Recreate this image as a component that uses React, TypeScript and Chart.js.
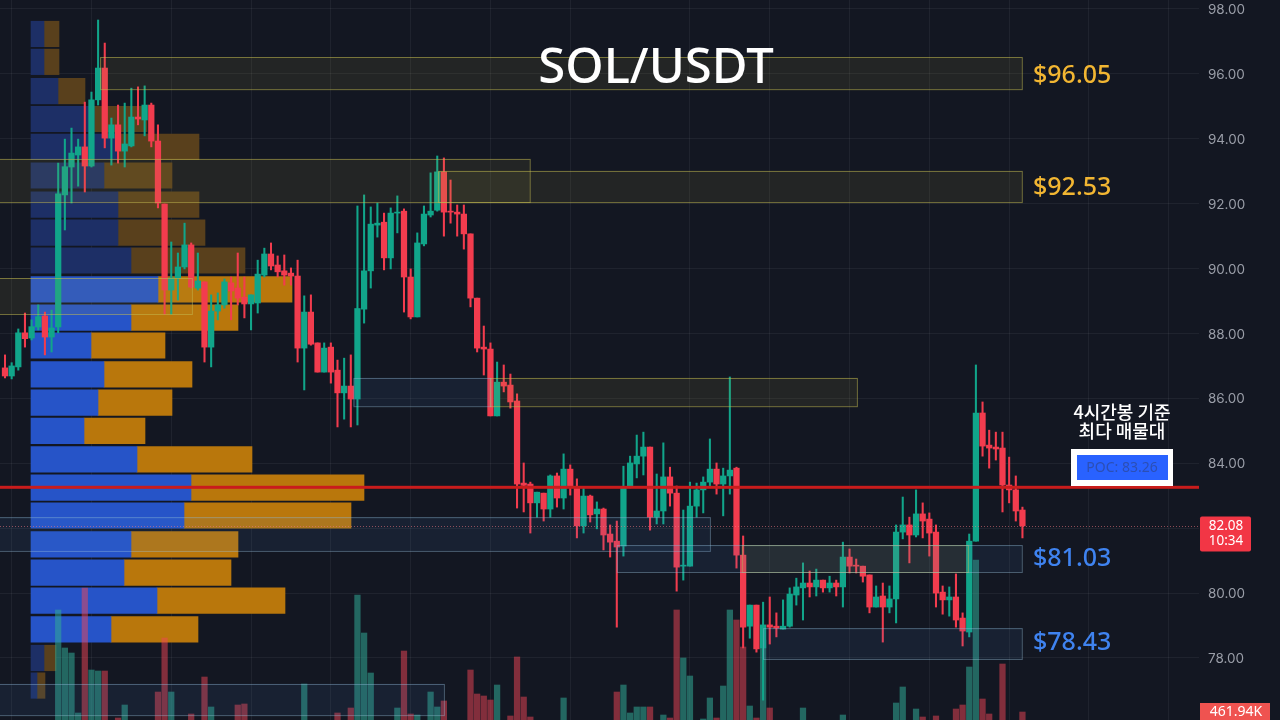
import { useEffect, useRef } from 'react';
import { Chart, Plugin, registerables } from 'chart.js';

Chart.register(...registerables);

const opens = [
  86.94, 86.69, 86.97, 88.02, 87.86, 88.2, 88.54, 87.89, 88.2, 92.27,
  93.13, 93.5, 93.75, 93.16, 95.2, 96.18, 94.02, 94.43, 93.62, 93.78,
  94.67, 94.58, 95.04, 93.93, 91.99, 89.34, 89.71, 90.05, 90.73, 89.4,
  89.59, 87.58, 88.69, 88.88, 89.56, 89.4, 89.12, 88.91, 88.94, 89.8,
  90.45, 90.11, 89.93, 89.86, 89.77, 87.55, 88.66, 87.71, 86.81, 87.58,
  86.87, 86.17, 86.38, 85.98, 88.75, 89.93, 91.34, 91.43, 90.33, 91.71,
  91.77, 89.74, 88.51, 90.76, 91.65, 91.8, 92.98, 91.77, 91.74, 91.68,
  91.07, 89.09, 87.58, 87.52, 85.46, 86.5, 86.41, 85.92, 83.39, 83.36,
  82.78, 83.08, 82.59, 83.61, 82.93, 83.82, 83.27, 82.07, 82.99, 82.44,
  82.59, 81.82, 81.6, 81.45, 83.27, 83.98, 84.22, 84.5, 82.34, 82.53,
  83.58, 83.08, 80.83, 80.83, 82.68, 83.18, 83.42, 83.82, 83.36, 83.61,
  83.85, 81.17, 78.98, 79.63, 78.31, 79.02, 78.98, 78.89, 78.98, 79.94,
  80.16, 80.31, 80.19, 80.4, 80.16, 80.31, 80.19, 81.11, 80.86, 80.83,
  80.56, 79.57, 79.91, 79.57, 79.82, 81.88, 82.1, 81.79, 82.44, 82.28,
  81.88, 80.03, 79.79, 79.88, 79.23, 78.8, 81.6, 85.55, 84.56, 84.5,
  84.47, 83.33, 83.18, 82.56,
];
const highs = [
  87.34, 87.1, 88.14, 88.63, 88.42, 88.88, 88.66, 88.72, 93.25, 93.99,
  94.33, 93.99, 95.13, 95.44, 97.66, 96.95, 94.64, 95.04, 95.1, 95.56,
  95.6, 95.63, 95.1, 94.43, 91.99, 90.82, 90.48, 91.4, 90.79, 90.48,
  89.59, 89.19, 89.25, 89.68, 89.74, 90.48, 89.74, 89.19, 90.26, 90.63,
  90.79, 90.39, 90.42, 90.02, 90.26, 89.16, 89.19, 87.71, 87.71, 87.71,
  87.18, 87.24, 87.34, 91.93, 92.27, 91.9, 92.02, 91.71, 91.87, 92.24,
  91.84, 89.99, 91.1, 91.93, 92.95, 93.47, 93.41, 92.73, 91.96, 91.96,
  91.07, 89.09, 88.23, 87.71, 87.12, 87.03, 86.75, 86.14, 84.01, 83.42,
  83.11, 83.08, 83.64, 83.7, 84.29, 83.95, 83.52, 83.24, 83.02, 82.81,
  82.62, 82.1, 82.22, 83.91, 84.22, 84.87, 84.96, 84.5, 83.67, 84.63,
  83.88, 83.3, 82.56, 83.42, 83.39, 83.58, 84.75, 84.01, 83.85, 86.66,
  83.88, 81.76, 79.63, 79.63, 79.72, 79.88, 79.39, 79.79, 80.16, 80.46,
  80.93, 80.68, 80.74, 80.4, 80.52, 80.4, 81.57, 81.36, 81.05, 80.83,
  80.56, 80.22, 80.31, 80.22, 82.1, 82.96, 82.34, 83.18, 82.78, 82.47,
  82.1, 80.22, 80.19, 80.59, 79.39, 81.82, 87.03, 85.89, 85.02, 84.96,
  84.96, 84.19, 83.61, 82.65,
];
const lows = [
  86.63, 86.6, 86.87, 87.58, 87.8, 88.11, 87.34, 87.43, 88.02, 91.19,
  92.02, 92.54, 92.36, 93.13, 95.04, 93.72, 93.19, 93.25, 93.13, 93.75,
  94.43, 94.09, 93.75, 91.87, 88.59, 88.59, 89.03, 89.99, 89.4, 89.34,
  87.12, 86.97, 88.42, 88.78, 88.42, 88.88, 88.48, 88.11, 88.63, 89.74,
  89.96, 89.74, 89.49, 89.49, 87.12, 86.26, 87.64, 86.81, 86.81, 86.47,
  85.12, 85.36, 85.12, 85.18, 88.32, 89.4, 90.97, 89.96, 89.99, 91.1,
  88.66, 88.45, 88.51, 90.7, 91.59, 91.77, 91.0, 91.4, 91.0, 90.6,
  88.82, 87.43, 86.72, 85.46, 85.46, 86.2, 85.7, 82.62, 82.5, 81.85,
  82.34, 82.22, 82.34, 82.65, 82.59, 83.02, 81.7, 81.85, 82.19, 81.98,
  81.33, 81.11, 78.95, 81.14, 83.24, 83.55, 83.64, 81.94, 82.13, 82.13,
  82.68, 80.06, 80.4, 80.83, 82.34, 82.47, 83.27, 83.05, 82.38, 83.05,
  80.77, 78.31, 78.61, 78.18, 76.7, 78.43, 78.65, 78.89, 78.95, 79.63,
  79.17, 79.88, 79.91, 80.03, 80.03, 79.91, 79.57, 80.62, 80.62, 80.34,
  79.39, 79.57, 78.49, 79.39, 79.08, 81.67, 80.93, 81.73, 81.7, 81.14,
  79.57, 79.35, 79.29, 78.95, 78.37, 78.65, 81.6, 84.22, 83.85, 84.1,
  82.5, 82.78, 82.22, 81.7,
];
const closes = [
  86.69, 87.0, 88.02, 87.84, 88.21, 88.52, 87.89, 88.17, 92.3, 93.14,
  93.56, 93.75, 93.16, 95.2, 96.18, 94.02, 94.43, 93.62, 93.84, 94.67,
  94.61, 95.04, 93.93, 92.02, 89.34, 89.71, 90.05, 90.73, 89.43, 89.62,
  87.58, 88.69, 88.88, 89.59, 89.31, 89.09, 88.91, 89.19, 89.83, 90.45,
  90.08, 89.9, 89.8, 89.77, 87.55, 88.66, 87.67, 86.81, 87.55, 86.81,
  86.17, 86.38, 85.98, 88.77, 89.93, 91.37, 91.4, 90.33, 91.71, 91.74,
  89.74, 88.51, 90.79, 91.68, 91.77, 92.98, 91.74, 91.74, 91.68, 91.07,
  89.09, 87.55, 87.52, 85.46, 86.5, 86.38, 85.89, 83.36, 83.32, 82.78,
  83.11, 82.59, 83.61, 82.93, 83.82, 83.27, 82.07, 82.99, 82.41, 82.59,
  81.79, 81.57, 81.42, 83.27, 84.01, 84.22, 84.5, 82.34, 82.53, 83.58,
  83.08, 80.8, 80.86, 82.68, 83.18, 83.42, 83.82, 83.36, 83.61, 83.79,
  81.17, 78.95, 79.63, 78.28, 79.02, 78.95, 78.92, 78.98, 79.97, 80.19,
  80.31, 80.19, 80.4, 80.16, 80.31, 80.19, 81.11, 80.83, 80.83, 80.52,
  79.57, 79.88, 79.57, 79.82, 81.88, 82.1, 81.79, 82.44, 82.22, 81.85,
  80.0, 79.79, 79.88, 79.17, 78.83, 81.6, 85.55, 84.53, 84.47, 84.44,
  83.33, 83.18, 82.53, 82.07,
];
// volume in thousands, the small ones sit below the bottom edge of the picture
const volumes = [
  200, 200, 200, 200, 200, 200, 200, 200, 3080, 2105,
  1976, 437, 3644, 1540, 1514, 1514, 200, 308, 642, 200,
  200, 200, 200, 975, 2361, 975, 200, 200, 411, 200,
  1360, 591, 200, 200, 200, 642, 668, 200, 200, 200,
  200, 200, 200, 200, 200, 1181, 200, 200, 200, 200,
  437, 200, 565, 3464, 2489, 1463, 200, 200, 200, 565,
  2027, 411, 385, 200, 975, 591, 745, 200, 200, 200,
  1540, 924, 873, 770, 1155, 200, 360, 1874, 847, 334,
  200, 200, 200, 200, 822, 200, 200, 200, 200, 200,
  200, 200, 975, 1155, 437, 591, 591, 591, 200, 385,
  308, 3080, 1848, 1386, 200, 283, 822, 308, 1129, 3080,
  2823, 2130, 616, 308, 2310, 565, 200, 200, 200, 200,
  565, 200, 200, 200, 200, 200, 385, 200, 200, 200,
  200, 200, 200, 200, 693, 1104, 200, 539, 334, 200,
  360, 200, 200, 539, 642, 1617, 4363, 796, 411, 200,
  1694, 200, 200, 462,
];

const profilePrices = [
  97.23, 96.37, 95.47, 94.61, 93.75, 92.87, 91.97, 91.11, 90.25, 89.36, 88.49, 87.63,
  86.74, 85.87, 85.0, 84.12, 83.25, 82.39, 81.5, 80.63, 79.77, 78.88, 78.0, 77.15,
];
const profileBuy = [13, 13, 27, 63, 87, 73, 87, 87, 100, 127, 100, 60, 73, 67, 53, 106, 160, 153, 100, 93, 126, 80, 13, 6];
const profileSell = [15, 15, 27, 53, 81, 68, 81, 87, 114, 134, 107, 74, 88, 74, 61, 115, 173, 167, 107, 107, 128, 87, 12, 8];
const profileInValueArea = [
  false, false, false, false, false, false, false, false, false, true, true, true,
  true, true, true, true, true, true, true, true, true, true, false, false,
];

const priceTicks = [78, 80, 82, 84, 86, 88, 90, 92, 94, 96, 98];
const timeGrid = [1, 13, 25, 37, 49, 61, 73, 85, 103, 115, 127, 139, 151, 163, 175];

// [from candle, to candle, top price, bottom price]
const resistanceZones = [
  [14.3, 152.9, 96.52, 95.53],
  [-2, 78.9, 93.38, 92.05],
  [65.1, 152.9, 93.01, 92.05],
  [-2, 28.1, 89.71, 88.6],
  [72.9, 128.1, 86.63, 85.76],
  [110.8, 144.8, 81.48, 80.65],
];
const supportZones = [
  [52.4, 73, 86.63, 85.76],
  [-2, 106, 82.34, 81.3],
  [92, 152.9, 81.48, 80.65],
  [114, 152.9, 78.92, 77.97],
  [-2, 66, 77.2, 76.24],
];

const resistanceLabels = [['$96.05', 95.94], ['$92.53', 92.49]] as const;
const supportLabels = [['$81.03', 81.04], ['$78.43', 78.47]] as const;

const POC = 83.26;
const LAST_PRICE = 82.08;
const LAST_VOLUME = '461.94K';
const COUNTDOWN = '10:34';

const BG = '#131722';
const UP = '#11a58a';
const DOWN = '#f23c4e';
const SANS = '"Noto Sans", sans-serif';

const overlays: Plugin<'bar'> = {
  id: 'overlays',
  afterDatasetsDraw(chart) {
    const { ctx, chartArea } = chart;
    const x = chart.scales.x;
    const y = chart.scales.y;
    ctx.save();

    const zone = (z: number[], fill: string, line: string) => {
      const left = x.getPixelForValue(z[0]);
      const right = x.getPixelForValue(z[1]);
      const top = y.getPixelForValue(z[2]);
      const bottom = y.getPixelForValue(z[3]);
      ctx.fillStyle = fill;
      ctx.fillRect(left, top, right - left, bottom - top);
      ctx.strokeStyle = line;
      ctx.lineWidth = 1;
      ctx.strokeRect(left + 0.5, top + 0.5, right - left, bottom - top);
    };
    resistanceZones.forEach((z) => zone(z, 'rgba(180,170,70,0.1)', 'rgba(195,185,80,0.55)'));
    supportZones.forEach((z) => zone(z, 'rgba(70,130,200,0.1)', 'rgba(150,190,220,0.42)'));

    // last price dotted line
    const lastY = Math.round(y.getPixelForValue(LAST_PRICE)) + 0.5;
    ctx.strokeStyle = 'rgba(242,120,130,0.55)';
    ctx.lineWidth = 1;
    ctx.setLineDash([1, 2]);
    ctx.beginPath();
    ctx.moveTo(0, lastY);
    ctx.lineTo(chartArea.right, lastY);
    ctx.stroke();
    ctx.setLineDash([]);

    // POC line
    const pocY = y.getPixelForValue(POC);
    ctx.fillStyle = '#c91c1c';
    ctx.fillRect(0, pocY - 1.5, chartArea.right, 3);

    ctx.textBaseline = 'middle';
    ctx.textAlign = 'center';
    ctx.fillStyle = '#ffffff';
    ctx.font = `500 49px ${SANS}`;
    ctx.fillText('SOL/USDT', 656, 69);

    ctx.textAlign = 'left';
    ctx.font = `500 25px ${SANS}`;
    ctx.fillStyle = '#f2b632';
    resistanceLabels.forEach(([t, p]) => ctx.fillText(t, 1033, y.getPixelForValue(p)));
    ctx.fillStyle = '#3f83f0';
    supportLabels.forEach(([t, p]) => ctx.fillText(t, 1033, y.getPixelForValue(p)));

    // POC callout
    ctx.textAlign = 'center';
    ctx.fillStyle = '#ffffff';
    ctx.font = `500 18px "Noto Sans CJK KR", ${SANS}`;
    ctx.fillText('4시간봉 기준', 1122, 412);
    ctx.fillText('최다 매물대', 1122, 431);
    ctx.fillRect(1071, 449, 102, 37);
    ctx.fillStyle = '#2962ff';
    ctx.fillRect(1077, 455, 91, 25);
    ctx.fillStyle = '#2c4fb4';
    ctx.font = `14px ${SANS}`;
    ctx.fillText(`POC: ${POC.toFixed(2)}`, 1122, 468);

    // tags on the price axis
    ctx.fillStyle = '#f23645';
    ctx.beginPath();
    ctx.roundRect(1200, lastY - 10, 51, 35, 2);
    ctx.fill();
    ctx.fillStyle = '#ffffff';
    ctx.font = `13.5px ${SANS}`;
    ctx.fillText(LAST_PRICE.toFixed(2), 1226, lastY);
    ctx.fillText(COUNTDOWN, 1226, lastY + 15);

    ctx.fillStyle = '#ef5350';
    ctx.fillRect(1200, 703, 70, 17);
    ctx.fillStyle = '#ffffff';
    ctx.font = `14px ${SANS}`;
    ctx.fillText(LAST_VOLUME, 1236, 712);

    ctx.restore();
  },
};

const App = () => {
  const chartRef = useRef<HTMLCanvasElement | null>(null);

  useEffect(() => {
    if (!chartRef.current) return;

    const isUp = (i: number) => closes[i] >= opens[i];
    const candleColors = opens.map((_, i) => (isUp(i) ? UP : DOWN));

    const chart = new Chart(chartRef.current, {
      type: 'bar',
      data: {
        datasets: [
          {
            label: 'Buy profile',
            indexAxis: 'y',
            xAxisID: 'xProfile',
            yAxisID: 'y',
            grouped: false,
            order: 5,
            barThickness: 25.5,
            backgroundColor: profileInValueArea.map((v) => (v ? '#2654c8' : '#1d2f66')),
            data: profilePrices.map((p, i) => ({ x: profileBuy[i], y: p })),
          },
          {
            label: 'Sell profile',
            indexAxis: 'y',
            xAxisID: 'xProfile',
            yAxisID: 'y',
            grouped: false,
            order: 6,
            barThickness: 25.5,
            backgroundColor: profileInValueArea.map((v) => (v ? '#b9770c' : '#59401c')),
            data: profilePrices.map((p, i) => ({ x: profileSell[i], y: p })),
          },
          {
            label: 'Volume',
            xAxisID: 'x',
            yAxisID: 'yVolume',
            grouped: false,
            order: 4,
            barThickness: 5.6,
            backgroundColor: opens.map((_, i) => (isUp(i) ? 'rgba(50,170,150,0.55)' : 'rgba(242,70,85,0.5)')),
            data: volumes.map((v, i) => ({ x: i, y: v })),
          },
          {
            label: 'Wick',
            xAxisID: 'x',
            yAxisID: 'y',
            grouped: false,
            order: 3,
            barThickness: 1.4,
            backgroundColor: candleColors,
            data: opens.map((_, i) => ({ x: i, y: [lows[i], highs[i]] })),
          },
          {
            label: 'Body',
            xAxisID: 'x',
            yAxisID: 'y',
            grouped: false,
            order: 2,
            barThickness: 5.6,
            minBarLength: 1,
            backgroundColor: candleColors,
            data: opens.map((_, i) => ({ x: i, y: [opens[i], closes[i]] })),
          },
        ] as any,
      },
      options: {
        responsive: false,
        animation: false,
        layout: { padding: 0 },
        plugins: { legend: { display: false }, tooltip: { enabled: false } },
        scales: {
          x: {
            type: 'linear',
            offset: false,
            min: -0.752,
            max: 179.55,
            border: { display: false },
            grid: { offset: false, color: 'rgba(255,255,255,0.055)', drawTicks: false },
            ticks: { display: false },
            afterBuildTicks: (axis) => {
              axis.ticks = timeGrid.map((value) => ({ value }));
            },
            afterFit: (axis) => {
              axis.height = 0;
              axis.paddingLeft = 0;
              axis.paddingRight = 0;
            },
          },
          y: {
            type: 'linear',
            position: 'right',
            offset: false,
            min: 76.089,
            max: 98.277,
            border: { display: false },
            grid: { offset: false, color: 'rgba(255,255,255,0.055)', drawTicks: false },
            ticks: {
              color: '#9a9ea8',
              padding: 9,
              labelOffset: 1,
              font: { family: 'Inter, "Noto Sans", sans-serif', size: 13.5 },
              callback: (v) => Number(v).toFixed(2),
            },
            afterBuildTicks: (axis) => {
              axis.ticks = priceTicks.map((value) => ({ value }));
            },
            afterFit: (axis) => {
              axis.width = 81;
              axis.paddingTop = 0;
              axis.paddingBottom = 0;
            },
          },
          xProfile: { axis: 'x', type: 'linear', display: false, offset: false, stacked: true, min: -31, max: 1168 },
          yVolume: { axis: 'y', type: 'linear', display: false, offset: false, min: 257, max: 18732 },
        } as any,
      },
      plugins: [overlays],
    });

    return () => chart.destroy();
  }, []);

  return (
    <div style={{ position: 'fixed', left: 0, top: 0, width: 1280, height: 720, background: BG }}>
      <canvas ref={chartRef} width={1280} height={720} style={{ display: 'block' }} />
    </div>
  );
};

export default App;
